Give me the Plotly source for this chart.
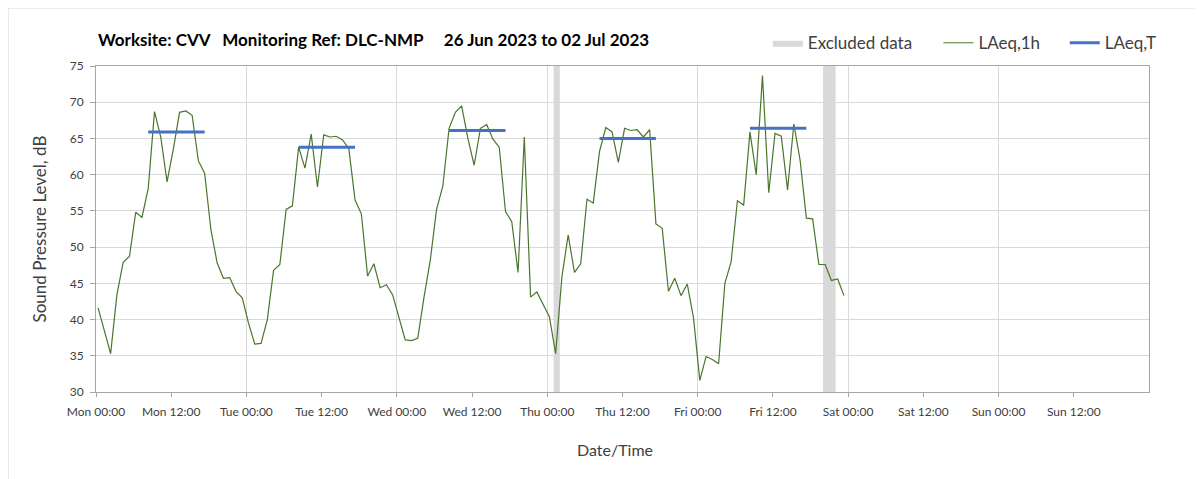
import pandas as pd
import plotly.graph_objects as go

# ---------------- data ----------------
start_time = "2023-06-26 00:20"
laeq_1h = [
    41.6, 38.5, 35.3, 43.4, 47.9, 48.7, 54.8, 54.1, 58.1, 68.7, 65.2, 59.0,
    63.5, 68.6, 68.8, 68.2, 61.9, 60.2, 52.4, 47.8, 45.7, 45.8, 43.9, 43.0,
    39.5, 36.6, 36.7, 40.0, 46.8, 47.6, 55.2, 55.7, 63.8, 60.9, 65.6, 58.3,
    65.5, 65.2, 65.3, 64.8, 63.6, 56.5, 54.6, 46.0, 47.7, 44.4, 44.8, 43.4,
    40.2, 37.2, 37.1, 37.4, 43.1, 48.2, 55.2, 58.4, 66.4, 68.6, 69.5, 65.0,
    61.3, 66.4, 66.9, 64.9, 63.8, 54.9, 53.5, 46.5, 65.2, 43.1, 43.8, 42.0,
    40.4, 35.3, 45.9, 51.7, 46.5, 47.7, 56.6, 56.1, 63.2, 66.5, 65.9, 61.7,
    66.4, 66.1, 66.2, 65.2, 66.2, 53.2, 52.6, 43.9, 45.7, 43.3, 44.9, 40.2,
    31.6, 34.9, 34.5, 33.9, 45.0, 48.0, 56.4, 55.8, 65.9, 60.0, 73.7, 57.5,
    65.7, 65.3, 57.9, 67.0, 62.0, 54.0, 53.9, 47.6, 47.6, 45.4, 45.6, 43.3,
]

laeqT_start = ["2023-06-26 08:20", "2023-06-27 08:20", "2023-06-28 08:20",
               "2023-06-29 08:20", "2023-06-30 08:20"]
laeqT_end = ["2023-06-26 17:20", "2023-06-27 17:20", "2023-06-28 17:20",
             "2023-06-29 17:20", "2023-06-30 17:20"]
laeqT_values = [65.9, 63.8, 66.1, 65.0, 66.4]

excl_start = ["2023-06-29 01:00", "2023-06-30 20:00"]
excl_end = ["2023-06-29 02:00", "2023-06-30 22:00"]

tick_vals = ["2023-06-26 00:00", "2023-06-26 12:00", "2023-06-27 00:00",
             "2023-06-27 12:00", "2023-06-28 00:00", "2023-06-28 12:00",
             "2023-06-29 00:00", "2023-06-29 12:00", "2023-06-30 00:00",
             "2023-06-30 12:00", "2023-07-01 00:00", "2023-07-01 12:00",
             "2023-07-02 00:00", "2023-07-02 12:00"]
tick_text = ["Mon 00:00", "Mon 12:00", "Tue 00:00", "Tue 12:00", "Wed 00:00",
             "Wed 12:00", "Thu 00:00", "Thu 12:00", "Fri 00:00", "Fri 12:00",
             "Sat 00:00", "Sat 12:00", "Sun 00:00", "Sun 12:00"]

x_range = ["2023-06-26 00:00", "2023-07-03 00:00"]
y_min, y_max = 30, 75

title_text = ("<b>Worksite: CVV&nbsp;&nbsp;&nbsp;Monitoring Ref: DLC-NMP"
              "&nbsp;&nbsp;&nbsp;&nbsp;&nbsp;26 Jun 2023 to 02 Jul 2023</b>")

# ---------------- build ----------------
times = pd.date_range(start_time, periods=len(laeq_1h), freq="h")

ex_x, ex_y = [], []
for s, e in zip(excl_start, excl_end):
    ex_x += [s, e, e, s, s, None]
    ex_y += [y_min, y_min, y_max, y_max, y_min, None]

t_x, t_y = [], []
for s, e, v in zip(laeqT_start, laeqT_end, laeqT_values):
    t_x += [s, e, None]
    t_y += [v, v, None]

FONT = "Lato, 'Open Sans', sans-serif"
TXT = "#404040"

fig = go.Figure()
fig.add_trace(go.Scatter(x=ex_x, y=ex_y, mode="lines", fill="toself",
                         fillcolor="#d9d9d9", line=dict(width=0, color="#d9d9d9"),
                         name="Excluded data", hoverinfo="skip", legend="legend"))
fig.add_trace(go.Scatter(x=times, y=laeq_1h, mode="lines",
                         line=dict(color="#4A762C", width=1.2), name="LAeq,1h",
                         legend="legend2"))
fig.add_trace(go.Scatter(x=t_x, y=t_y, mode="lines",
                         line=dict(color="#4472C4", width=3), name="LAeq,T",
                         legend="legend3"))

leg_common = dict(y=1.07, yanchor="middle", xanchor="left",
                  font=dict(size=17, color=TXT, family=FONT),
                  bgcolor="rgba(0,0,0,0)", orientation="h")

fig.update_layout(
    width=1203, height=479,
    margin=dict(l=88, r=62, t=58, b=95),
    paper_bgcolor="white", plot_bgcolor="white",
    font=dict(family=FONT, color=TXT, size=12),
    showlegend=True,
    legend=dict(x=0.638, **leg_common),
    legend2=dict(x=0.800, **leg_common),
    legend3=dict(x=0.920, **leg_common),
    annotations=[
        dict(text=title_text, xref="paper", yref="paper", x=0.0, y=1.08,
             xanchor="left", yanchor="middle", showarrow=False,
             font=dict(size=17, color="#000000", family=FONT)),
        dict(text="Date/Time", xref="paper", yref="paper", x=0.4925, y=-0.177,
             xanchor="center", yanchor="middle", showarrow=False,
             font=dict(size=16, color=TXT, family=FONT)),
    ],
    shapes=[dict(type="rect", xref="paper", yref="paper", x0=-0.0835, x1=1.07,
                 y0=-0.4, y1=1.178, line=dict(color="#d9d9d9", width=1),
                 fillcolor="rgba(0,0,0,0)", layer="below")],
)
fig.update_xaxes(
    type="date", range=x_range, tickvals=tick_vals, ticktext=tick_text,
    showgrid=False, ticks="outside", ticklen=4, tickcolor="#a6a6a6",
    ticklabelstandoff=5,
    tickfont=dict(size=12, color=TXT),
    showline=True, linecolor="#a6a6a6", linewidth=1, mirror=True,
    minor=dict(showgrid=True, gridcolor="#d9d9d9", gridwidth=1,
               tick0="2023-06-26 00:00", dtick=86400000, ticks=""),
)
fig.update_yaxes(
    range=[y_min, y_max], dtick=5, showgrid=True, gridcolor="#d9d9d9",
    ticks="outside", ticklen=5, tickcolor="#a6a6a6", ticklabelstandoff=4,
    tickfont=dict(size=12, color=TXT),
    showline=True, linecolor="#a6a6a6", linewidth=1, mirror=True,
    zeroline=False,
    title=dict(text="Sound Pressure Level, dB", font=dict(size=17, color=TXT),
               standoff=18),
)

fig.write_html("out.html")
